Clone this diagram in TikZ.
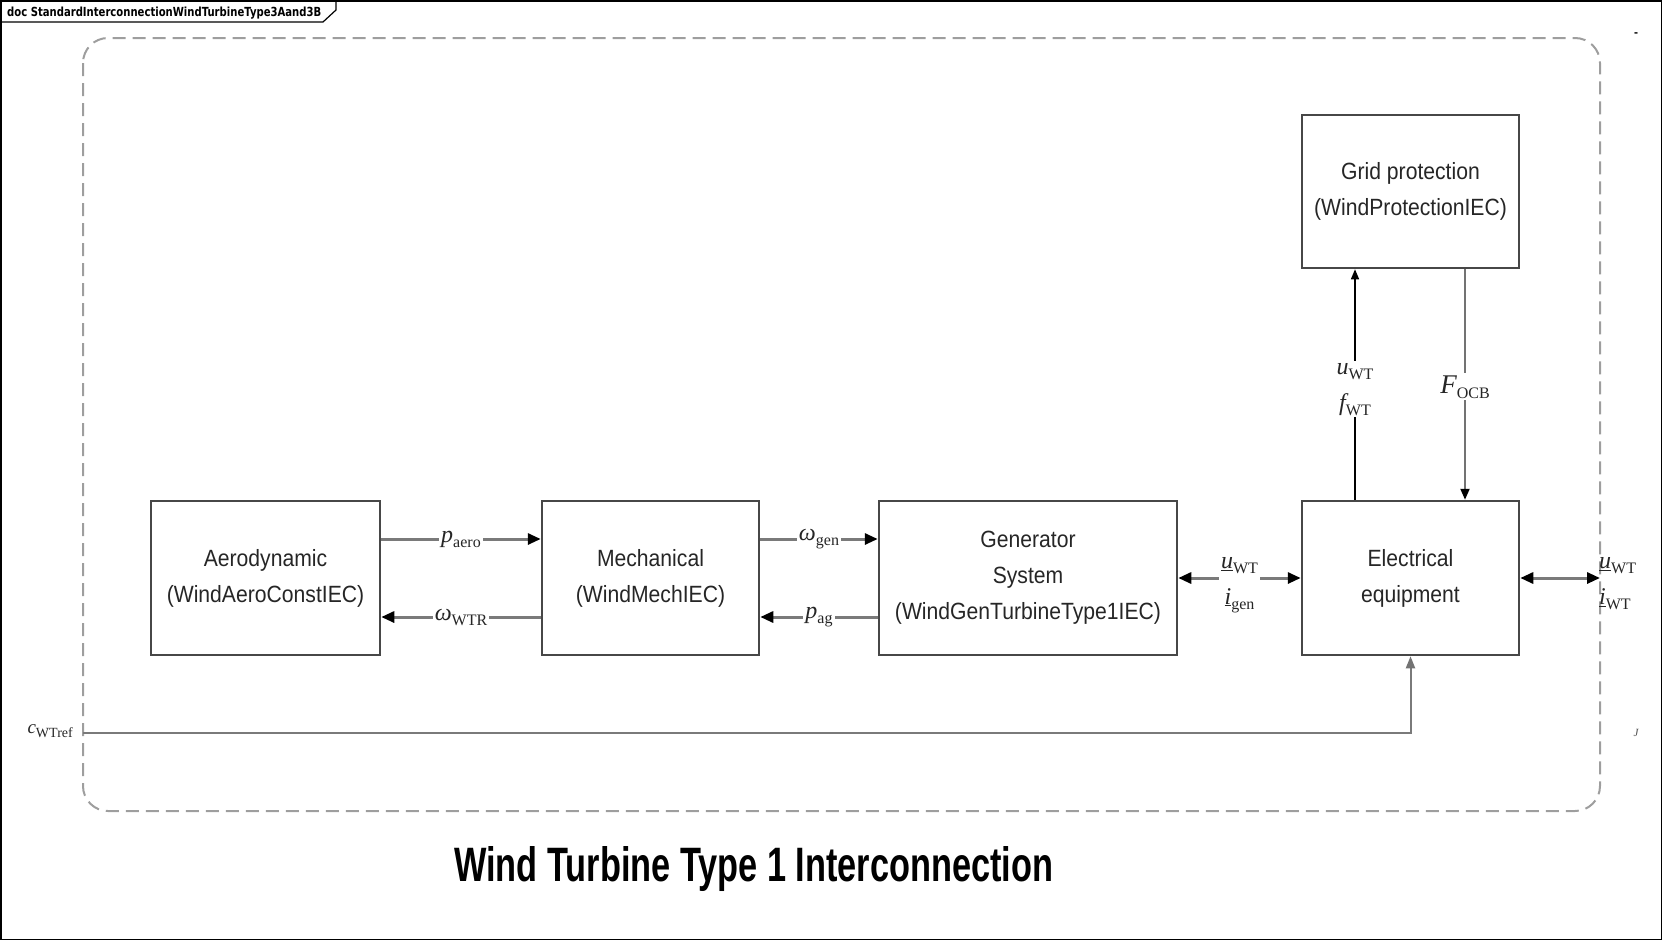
\documentclass[tikz,border=0pt]{standalone}
\usepackage{fontspec}
\usetikzlibrary{arrows.meta,calc}
\newfontfamily\boxfont[FakeStretch=0.9]{Liberation Sans}
\newfontfamily\headfont{Liberation Sans}
\newfontfamily\tabfont{DejaVu Sans}
\newfontfamily\tms{Liberation Serif}
\newcommand{\sym}[2]{{\tms\itshape\fontsize{24}{24}\selectfont #1}\raisebox{-5pt}{\tms\fontsize{16}{16}\selectfont #2}}
\begin{document}
\begin{tikzpicture}[x=1pt,y=-1pt,
  blk/.style={draw=black!72, line width=2.5pt, fill=white, minimum height=154pt,
    inner sep=0pt, align=center, text=black!85,
    font=\boxfont\fontsize{23.5}{36}\selectfont},
  lbl/.style={fill=white, inner sep=2pt, text=black!85, align=center,
    font=\fontsize{24}{36}\selectfont},
  harr/.style={draw=black!52, line width=3pt,
    -{Triangle[length=13pt,width=11pt,color=black]}},
  barr/.style={draw=black!52, line width=3pt,
    {Triangle[length=13pt,width=11pt,color=black]}-{Triangle[length=13pt,width=11pt,color=black]}},
  varr/.style={draw=black, line width=1.5pt,
    -{Triangle[length=10pt,width=8pt,color=black]}},
  farr/.style={draw=black!55, line width=2pt,
    -{Triangle[length=11pt,width=9pt,color=black]}},
  carr/.style={draw=black!52, line width=2pt,
    -{Triangle[length=12pt,width=9pt,color=black!55]}},
  bound/.style={draw=black!38, line width=2pt, dash pattern=on 13pt off 7pt,
    rounded corners=25pt}]
\useasboundingbox (0,0) rectangle (1663,940);
% outer frame and tab
\draw[line width=1.5pt] (0.75,0.75) rectangle (1661.5,939.25);
\draw[line width=1.2pt] (0.75,22) -- (323,22) -- (336,10) -- (336,0.75);
\node[anchor=base west, inner sep=0pt] (tab) at (7,16)
  {\resizebox{314pt}{9.5pt}{\tabfont\bfseries doc StandardInterconnectionWindTurbineType3Aand3B}};
% dashed boundary
\draw[bound] (83,38) rectangle (1600,811);
% blocks
\node[blk, minimum width=229pt] (aero) at (265.5,578) {Aerodynamic\\(WindAeroConstIEC)};
\node[blk, minimum width=217pt] (mech) at (650.5,578) {Mechanical\\(WindMechIEC)};
\node[blk, minimum width=298pt] (gen) at (1028,578) {Generator\\System\\(WindGenTurbineType1IEC)};
\node[blk, minimum width=217pt] (elec) at (1410.5,578) {Electrical\\equipment};
\node[blk, minimum width=217pt, minimum height=153pt] (grid) at (1410.5,191.5) {Grid protection\\(WindProtectionIEC)};
% connectors
\draw[harr] ([yshift=39pt]aero.east) -- node[lbl] (lpaero) {\sym{p}{aero}} ([yshift=39pt]mech.west);
\draw[harr] ([yshift=-39pt]mech.west) -- node[lbl] (lwwtr) {\sym{ω}{WTR}} ([yshift=-39pt]aero.east);
\draw[harr] ([yshift=39pt]mech.east) -- node[lbl] (lwgen) {\sym{ω}{gen}} ([yshift=39pt]gen.west);
\draw[harr] ([yshift=-39pt]gen.west) -- node[lbl] (lpag) {\sym{p}{ag}} ([yshift=-39pt]mech.east);
\draw[barr] (gen.east) -- node[lbl, yshift=-7pt] (lgen) {\sym{\underline{u}}{WT}\\\sym{\underline{i}}{gen}} (elec.west);
\coordinate (rend) at (1600,578);
\draw[barr] (elec.east) -- (rend);
\node[anchor=west, inner sep=0pt, align=left, text=black!85, font=\fontsize{24}{36}\selectfont] (lright) at (1599,584)
  {\sym{\underline{u}}{WT}\\\sym{\underline{i}}{WT}};
\draw[varr] ([xshift=-55.5pt]elec.north) -- node[lbl, pos=0.48] (lufwt) {\sym{u}{WT}\\\sym{f}{WT}} ([xshift=-55.5pt]grid.south);
\draw[farr] ([xshift=54.5pt]grid.south) -- node[lbl, pos=0.51] (locb) {{\tms\itshape\fontsize{27}{27}\selectfont F}\raisebox{-5pt}{\tms\fontsize{16}{16}\selectfont OCB}} ([xshift=54.5pt]elec.north);
\coordinate (cref) at (83,733);
\draw[carr] (cref) -| (elec.south);
\node[anchor=east, inner sep=0pt, text=black!85] (lcref) at (73,731)
  {{\tms\itshape\fontsize{19}{19}\selectfont c}\raisebox{-4pt}{\tms\fontsize{14}{14}\selectfont WTref}};
% small marks at right
\node[inner sep=0pt, font=\headfont\bfseries\fontsize{12}{12}\selectfont] (m1) at (1636,35) {-};
\node[inner sep=0pt, font=\tms\itshape\fontsize{11}{11}\selectfont, text=black!70] (m2) at (1636,733) {J};
% title
\node[anchor=base west, inner sep=0pt] (title) at (454,881)
  {\resizebox{599pt}{35pt}{\headfont\bfseries Wind Turbine Type 1 Interconnection}};
\end{tikzpicture}
\end{document}
